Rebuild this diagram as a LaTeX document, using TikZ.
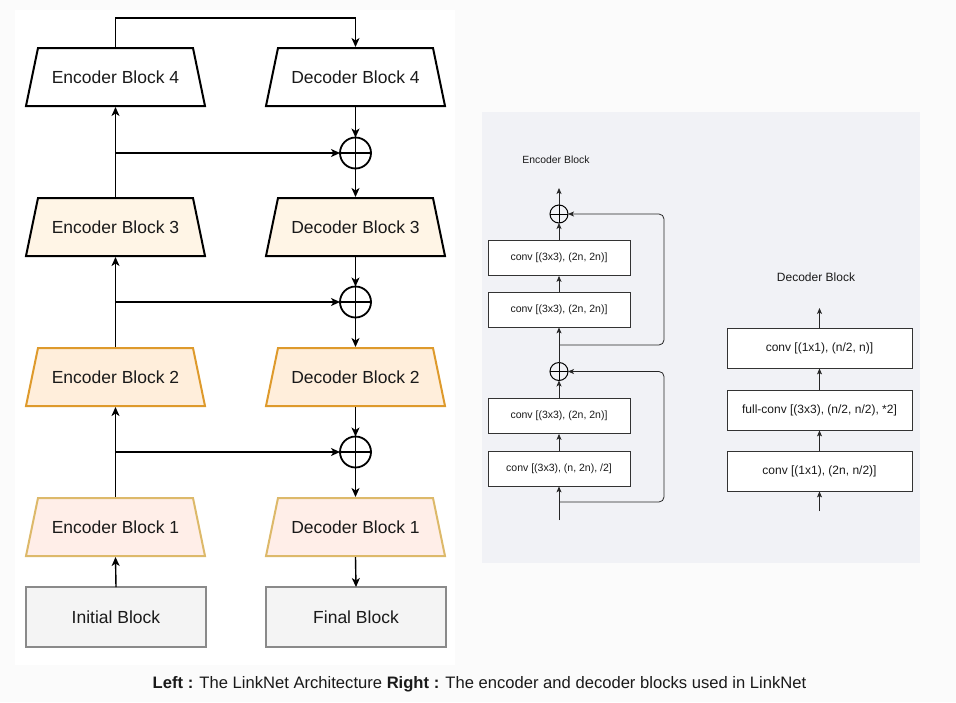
\documentclass[tikz,border=0pt]{standalone}
\usepackage{fontspec}
\setmainfont{Liberation Sans}
\usetikzlibrary{shapes.geometric,arrows.meta,calc}
\definecolor{outerbg}{HTML}{FBFBFB}
\definecolor{panelbg}{HTML}{F1F2F6}
\definecolor{fillthree}{HTML}{FFF5E6}
\definecolor{filltwo}{HTML}{FFEEDB}
\definecolor{strtwo}{HTML}{DE9A2C}
\definecolor{fillone}{HTML}{FFEEE8}
\definecolor{strone}{HTML}{DDB96A}
\definecolor{greyfill}{HTML}{F4F4F4}
\definecolor{greystr}{HTML}{8A8A8A}
\definecolor{txt}{HTML}{1A1A1A}
\tikzset{
  trapbase/.style={rectangle, minimum width=181pt, minimum height=60pt, inner sep=0pt, outer sep=0pt,
    font=\fontsize{17.5}{20}\selectfont, text=txt},
  trapline/.style={line width=2pt, line join=miter},
  greybox/.style={rectangle, minimum width=180pt, minimum height=60pt, inner sep=0pt, outer sep=0pt,
    draw=greystr, fill=greyfill, line width=2pt, font=\fontsize{17.5}{20}\selectfont, text=txt},
  plusnode/.style={circle, draw, line width=1.8pt, minimum size=#1, inner sep=0pt, outer sep=0pt,
    path picture={\draw[line width=1.8pt] (path picture bounding box.north) -- (path picture bounding box.south)
      (path picture bounding box.west) -- (path picture bounding box.east);}},
  smallplus/.style={circle, draw, line width=1pt, minimum size=18pt, inner sep=0pt, outer sep=0pt,
    path picture={\draw[line width=1pt] (path picture bounding box.north) -- (path picture bounding box.south)
      (path picture bounding box.west) -- (path picture bounding box.east);}},
  arr/.style={line width=1.4pt, -{Stealth[length=9pt,width=8pt,inset=2.5pt]}},
  ebox/.style={rectangle, draw=black!80, fill=white, line width=0.8pt, minimum width=142pt, minimum height=35pt,
    inner sep=0pt, font=\fontsize{10.5}{12}\selectfont, text=txt},
  dbox/.style={rectangle, draw=black!80, fill=white, line width=0.8pt, minimum width=185pt, minimum height=40pt,
    inner sep=0pt, font=\fontsize{12}{14}\selectfont, text=txt},
  sarr/.style={line width=0.8pt, black!85, -{Stealth[length=6pt,width=5pt,inset=1.5pt]}},
}
% \linktrap{name}{x}{y}{fill}{stroke}{text}
\newcommand\linktrap[6]{%
  \filldraw[trapline, fill=#4, draw=#5] (#2-89.5,#3+29) -- (#2-77.5,#3-29) -- (#2+77.5,#3-29) -- (#2+89.5,#3+29) -- cycle;
  \node[trapbase] (#1) at (#2,#3) {#6};}
\begin{document}
\begin{tikzpicture}[x=1pt,y=-1pt]
\useasboundingbox (0,0) rectangle (956,702);
\fill[outerbg] (0,0) rectangle (956,702);
\fill[white] (15,10) rectangle (455,665);
\fill[panelbg] (482,112) rectangle (920,563);

% ---------- Left: LinkNet ----------
\linktrap{e4}{115.5}{77}{white}{black}{Encoder Block 4}
\linktrap{d4}{355.5}{77}{white}{black}{Decoder Block 4}
\linktrap{e3}{115.5}{227}{fillthree}{black}{Encoder Block 3}
\linktrap{d3}{355.5}{227}{fillthree}{black}{Decoder Block 3}
\linktrap{e2}{115.5}{377}{filltwo}{strtwo}{Encoder Block 2}
\linktrap{d2}{355.5}{377}{filltwo}{strtwo}{Decoder Block 2}
\linktrap{e1}{115.5}{527}{fillone}{strone}{Encoder Block 1}
\linktrap{d1}{355.5}{527}{fillone}{strone}{Decoder Block 1}
\node[greybox] (ib) at (116,617) {Initial Block};
\node[greybox] (fb) at (356,617) {Final Block};

\node[plusnode=31pt] (p4) at (355.5,153) {};
\node[plusnode=31pt] (p3) at (355.5,302) {};
\node[plusnode=31pt] (p2) at (355.5,452) {};

\coordinate (top) at (236,18);
\draw[arr] (e4.north) -- (e4.north |- top) -| (d4.north);

\draw[arr] (e3.north) -- (e4.south);
\draw[arr] (e2.north) -- (e3.south);
\draw[arr] (e1.north) -- (e2.south);
\draw[arr] (ib.north) -- (e1.south);

\draw[arr] (e4.south |- p4) -- (p4.west);
\draw[arr] (e3.south |- p3) -- (p3.west);
\draw[arr] (e2.south |- p2) -- (p2.west);

\draw[arr] (d4.south) -- (p4.north);
\draw[arr] (p4.south) -- (d3.north);
\draw[arr] (d3.south) -- (p3.north);
\draw[arr] (p3.south) -- (d2.north);
\draw[arr] (d2.south) -- (p2.north);
\draw[arr] (p2.south) -- (d1.north);
\draw[arr] (d1.south) -- (fb.north);

% ---------- Right: Encoder Block ----------
\node[font=\fontsize{10.4}{12}\selectfont, text=txt] (eh) at (556,160) {Encoder Block};
\node[ebox] (ba) at (559,258) {conv [(3x3), (2n, 2n)]};
\node[ebox] (bb) at (559,309.5) {conv [(3x3), (2n, 2n)]};
\node[ebox] (bc) at (559,416) {conv [(3x3), (2n, 2n)]};
\node[ebox] (bd) at (559,468.5) {conv [(3x3), (n, 2n), /2]};
\node[smallplus] (pa) at (559,214) {};
\node[smallplus] (pb) at (559,371.5) {};
\coordinate (eout) at (559,188);
\coordinate (ein) at (559,520);
\coordinate (sa) at (559,345);
\coordinate (sb) at (559,502);
\coordinate (rx) at (664,0);

\draw[sarr] (pa.north) -- (eout);
\draw[sarr] (ba.north) -- (pa.south);
\draw[sarr] (bb.north) -- (ba.south);
\draw[sarr] (pb.north) -- (bb.south);
\draw[sarr] (bc.north) -- (pb.south);
\draw[sarr] (bd.north) -- (bc.south);
\draw[sarr] (ein) -- (bd.south);
\draw[sarr, rounded corners=5pt] (sa) -- (rx |- sa) -- (rx |- pa) -- (pa.east);
\draw[sarr, rounded corners=5pt] (sb) -- (rx |- sb) -- (rx |- pb) -- (pb.east);

% ---------- Right: Decoder Block ----------
\node[font=\fontsize{12}{14}\selectfont, text=txt] (dh) at (816,277) {Decoder Block};
\node[dbox] (da) at (819.5,348) {conv [(1x1), (n/2, n)]};
\node[dbox] (db) at (819.5,410) {full-conv [(3x3), (n/2, n/2), *2]};
\node[dbox] (dc) at (819.5,471) {conv [(1x1), (2n, n/2)]};
\coordinate (dout) at (819.5,308);
\coordinate (din) at (819.5,511);
\draw[sarr] (da.north) -- (dout);
\draw[sarr] (db.north) -- (da.south);
\draw[sarr] (dc.north) -- (db.south);
\draw[sarr] (din) -- (dc.south);

% ---------- Caption ----------
\node[font=\fontsize{16.6}{19}\selectfont, text=txt] (cap) at (479.5,684)
  {\textbf{Left :} The LinkNet Architecture \textbf{Right :} The encoder and decoder blocks used in LinkNet};
\end{tikzpicture}
\end{document}
